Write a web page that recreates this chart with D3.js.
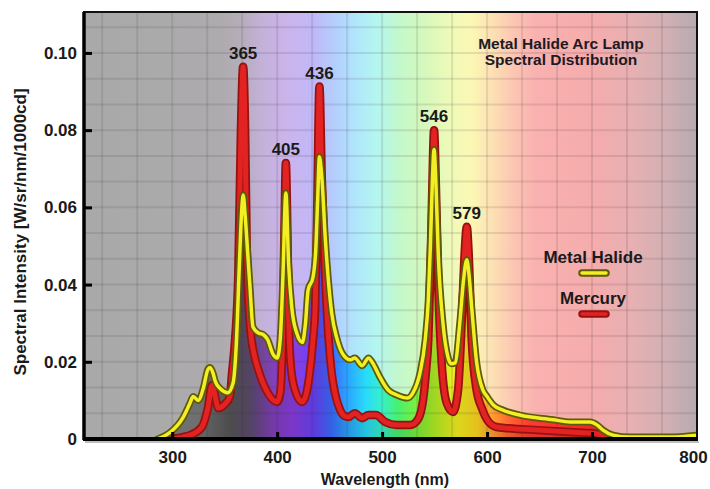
<!DOCTYPE html>
<html lang="en">
<head>
<meta charset="UTF-8">
<title>Metal Halide Arc Lamp Spectral Distribution</title>
<script src="https://d3js.org/d3.v7.min.js"></script>
<style>
  body { margin: 0; padding: 0; background: #fff; }
  svg { display: block; font-family: Arial, "Liberation Sans", sans-serif; font-weight: bold; }
  .tick text { font-size: 17px; fill: #1a1a1a; font-weight: bold; }
  .tick line { stroke: #000; stroke-width: 3; }
</style>
</head>
<body>
<svg id="chart" width="710" height="489"></svg>
<script>
// axis ticks and labels
const xTicks = [300, 400, 500, 600, 700, 800];
const yTicks = [0, 0.02, 0.04, 0.06, 0.08, 0.10];
const peakLabels = [365, 405, 436, 546, 579];
const seriesNames = ["Metal Halide", "Mercury"];

// [wavelength nm, spectral intensity]
const metalHalide = [
  [286, 0], [298, 0.0017], [310, 0.0054], [317, 0.0093], [320, 0.011], [324.8, 0.010],
  [329.5, 0.013], [334, 0.018], [336, 0.0185], [339, 0.017], [341, 0.015], [346, 0.013],
  [353, 0.012], [358, 0.0145], [361, 0.024], [364, 0.045], [366, 0.058], [367.6, 0.0632],
  [369.5, 0.058], [372, 0.048], [374, 0.040], [377, 0.029], [382, 0.0275], [387, 0.027],
  [391, 0.0257], [396, 0.022], [400, 0.021], [403, 0.026], [405.5, 0.042], [408.3, 0.0637],
  [411, 0.045], [414, 0.034], [418.6, 0.0275], [424, 0.025], [427, 0.030], [429.5, 0.0386],
  [434, 0.0417], [436.8, 0.049], [438.6, 0.062], [440.3, 0.0731], [442.5, 0.068], [446, 0.0515],
  [452, 0.0326], [457, 0.026], [463, 0.0218], [469.5, 0.0205], [474, 0.021], [481, 0.019],
  [487, 0.021], [491, 0.0197], [498, 0.016], [505.7, 0.0127], [514, 0.0114], [524, 0.0106],
  [529.5, 0.012], [536, 0.017], [541, 0.0256], [544, 0.036], [546, 0.05], [547.8, 0.066],
  [549.5, 0.075], [551.3, 0.066], [553.5, 0.048], [558, 0.030], [563, 0.021], [566, 0.0195],
  [569.5, 0.0197], [574, 0.030], [577.5, 0.041], [580.7, 0.0464], [583, 0.042], [585.4, 0.034],
  [590, 0.020], [596, 0.0127], [600, 0.011], [606, 0.0088], [615, 0.0075], [631, 0.0062],
  [663, 0.005], [679, 0.0044], [698, 0.0044], [705, 0.0036], [710.5, 0.0023], [720, 0.001],
  [736, 0.0005], [774, 0.0005], [800, 0.001]
];

const mercury = [
  [296, 0], [310, 0.0005], [317, 0.001], [328, 0.003], [334, 0.008], [338, 0.014],
  [341, 0.011], [344, 0.008], [350, 0.009], [355, 0.011], [357, 0.017], [360, 0.026],
  [363, 0.043], [365.5, 0.08], [367.6, 0.0964], [369.5, 0.08], [371, 0.05], [374, 0.030],
  [378, 0.022], [382, 0.018], [391, 0.012], [400, 0.0096], [403, 0.012], [405.5, 0.03],
  [407, 0.055], [408.3, 0.0715], [409.7, 0.055], [411, 0.032], [413, 0.019], [417, 0.0127],
  [424, 0.0096], [431, 0.017], [434, 0.025], [436.2, 0.034], [438.2, 0.06], [440.3, 0.0913],
  [442.5, 0.068], [445.7, 0.043], [449, 0.026], [452, 0.017], [455, 0.012], [460, 0.0075],
  [464, 0.006], [468, 0.0057], [474, 0.0067], [481, 0.0054], [487, 0.0062], [494, 0.0062],
  [503, 0.0044], [514, 0.0036], [527, 0.0036], [534, 0.005], [539, 0.010], [542, 0.018],
  [544, 0.0256], [546, 0.043], [547.8, 0.065], [549.5, 0.080], [551.3, 0.065], [553.5, 0.04],
  [557, 0.0187], [561.6, 0.0093], [567.6, 0.007], [572.4, 0.0127], [575, 0.025], [577, 0.038],
  [579, 0.050], [580.7, 0.055], [582.5, 0.048], [585.4, 0.0256], [590, 0.0127], [595, 0.008],
  [600, 0.005], [609, 0.0031], [620, 0.0028], [648, 0.0023], [679, 0.0018], [701, 0.0015],
  [710, 0.001], [717, 0.0005], [727, 0], [800, 0]
];

// colour stops of the spectrum backdrop (pale) and of the area under the curves (saturated)
const paleStops = [
  [216, "#a9a9a9"], [345, "#adabad"], [365, "#b5adb9"], [385, "#c3b1d9"], [410, "#cbb4ec"],
  [435, "#c0b8f8"], [455, "#b4cefc"], [475, "#b0e6fc"], [495, "#b4f6f0"], [515, "#c2f8cc"],
  [540, "#d6f8bc"], [565, "#eefab8"], [585, "#fcf8b4"], [605, "#fde0b4"], [625, "#fcc6b2"],
  [645, "#fab2b0"], [700, "#f5acac"], [740, "#e6b0b2"], [770, "#d2b0b4"], [800, "#b6aab0"]
];
const brightStops = [
  [216, "#7c7c7c"], [330, "#6e6e6e"], [355, "#565656"], [375, "#5e4c70"], [395, "#8040b8"],
  [415, "#8a3ee0"], [435, "#6a42f8"], [452, "#3a6cff"], [468, "#2aa8ff"], [485, "#28dcf8"],
  [500, "#38f0c8"], [515, "#48f070"], [535, "#80f038"], [555, "#c2f022"], [572, "#f4f020"],
  [590, "#ffd820"], [605, "#ffa030"], [620, "#ff6a30"], [640, "#ff3a32"], [700, "#f02828"],
  [800, "#c04040"]
];

const svg = d3.select("#chart");
const margin = { top: 12, right: 13, bottom: 50, left: 84 };
const width = 710 - margin.left - margin.right;
const height = 489 - margin.top - margin.bottom;

const x = d3.scaleLinear().domain([216, 800]).range([0, width]);
const y = d3.scaleLinear().domain([0, 0.1106]).range([height, 0]);

const defs = svg.append("defs");
function spectrum(id, stops) {
  const g = defs.append("linearGradient").attr("id", id)
    .attr("gradientUnits", "userSpaceOnUse")
    .attr("x1", 0).attr("x2", width).attr("y1", 0).attr("y2", 0);
  stops.forEach(s => g.append("stop").attr("offset", x(s[0]) / width).attr("stop-color", s[1]));
}
spectrum("pale", paleStops);
spectrum("bright", brightStops);
defs.append("clipPath").attr("id", "plotClip")
  .append("rect").attr("width", width).attr("height", height);

const g = svg.append("g").attr("transform", `translate(${margin.left},${margin.top})`);

g.append("rect").attr("width", width).attr("height", height).attr("fill", "url(#pale)");

const plot = g.append("g").attr("clip-path", "url(#plotClip)");

const area = d3.area().x(d => x(d[0])).y0(height).y1(d => y(d[1])).curve(d3.curveMonotoneX);
const line = d3.line().x(d => x(d[0])).y(d => y(d[1])).curve(d3.curveMonotoneX);

plot.append("path").datum(metalHalide).attr("d", area).attr("fill", "url(#bright)");
plot.append("path").datum(mercury).attr("d", area).attr("fill", "rgba(0,0,0,0.1)");

// grid
const vGrid = d3.range(800, 216, -100 / 3);
const hGrid = d3.range(0.02 / 3, 0.1106, 0.02 / 3);
plot.selectAll(".vgrid").data(vGrid).enter().append("line")
  .attr("x1", d => x(d)).attr("x2", d => x(d)).attr("y1", 0).attr("y2", height)
  .attr("stroke", "rgba(60,40,60,0.12)").attr("stroke-width", 2);
plot.selectAll(".hgrid").data(hGrid).enter().append("line")
  .attr("y1", d => y(d)).attr("y2", d => y(d)).attr("x1", 0).attr("x2", width)
  .attr("stroke", "rgba(60,40,60,0.12)").attr("stroke-width", 2);

// curves: mercury below, metal halide on top
const curveStyle = [
  { data: mercury, outer: "#951212", outerW: 8.5, inner: "#e32222", innerW: 5 },
  { data: metalHalide, outer: "#5e5a08", outerW: 7, inner: "#f3ef24", innerW: 3.5 }
];
curveStyle.forEach(c => {
  plot.append("path").datum(c.data).attr("d", line).attr("fill", "none")
    .attr("stroke", c.outer).attr("stroke-width", c.outerW)
    .attr("stroke-linejoin", "round").attr("stroke-linecap", "round");
  plot.append("path").datum(c.data).attr("d", line).attr("fill", "none")
    .attr("stroke", c.inner).attr("stroke-width", c.innerW)
    .attr("stroke-linejoin", "round").attr("stroke-linecap", "round");
});

// frame
g.append("rect").attr("width", width).attr("height", height)
  .attr("fill", "none").attr("stroke", "#111").attr("stroke-width", 2);
g.append("line").attr("x1", 0).attr("x2", 0).attr("y1", 0).attr("y2", height + 1)
  .attr("stroke", "#000").attr("stroke-width", 3.5);
g.append("line").attr("x1", -1).attr("x2", width + 1).attr("y1", height).attr("y2", height)
  .attr("stroke", "#000").attr("stroke-width", 4);
g.append("line").attr("x1", 1).attr("x2", width + 2).attr("y1", height + 3).attr("y2", height + 3)
  .attr("stroke", "rgba(0,0,0,0.25)").attr("stroke-width", 2);

// axes with inward ticks
const xAxis = g.append("g").attr("transform", `translate(0,${height})`)
  .call(d3.axisBottom(x).tickValues(xTicks).tickSize(-7).tickPadding(12).tickFormat(d3.format("d")));
const yAxis = g.append("g")
  .call(d3.axisLeft(y).tickValues(yTicks).tickSize(-8).tickPadding(7)
    .tickFormat(d => d === 0 ? "0" : d3.format(".2f")(d)));
[xAxis, yAxis].forEach(a => {
  a.select(".domain").remove();
  a.selectAll(".tick line").attr("stroke", "#000").attr("stroke-width", 3);
  a.selectAll(".tick text").attr("font-family", null).attr("font-size", null);
});
const lastTick = xAxis.selectAll(".tick").filter(d => d === 800);
lastTick.select("line").remove();
lastTick.select("text").attr("x", -4);
yAxis.selectAll(".tick").filter(d => d === 0).select("line").remove();

// peak labels above the mercury maxima
peakLabels.forEach(p => {
  const near = mercury.filter(d => d[0] >= p - 1 && d[0] <= p + 6);
  const top = near.reduce((a, b) => (b[1] > a[1] ? b : a));
  g.append("text").attr("x", x(top[0])).attr("y", y(top[1]) - 8)
    .attr("text-anchor", "middle").attr("font-size", 17).attr("fill", "#1a1a1a").text(p);
});

// title
const title = g.append("text").attr("text-anchor", "middle").attr("font-size", 15.5).attr("fill", "#1c1a24");
title.append("tspan").attr("x", 561 - margin.left).attr("y", 37).text("Metal Halide Arc Lamp");
title.append("tspan").attr("x", 561 - margin.left).attr("y", 53).text("Spectral Distribution");

// legend
const legend = g.append("g").attr("transform", `translate(${593 - margin.left},0)`);
seriesNames.forEach((name, i) => {
  const c = curveStyle[1 - i];
  const ty = 251 + i * 41;
  legend.append("text").attr("y", ty).attr("text-anchor", "middle")
    .attr("font-size", 17).attr("fill", "#1a1a1a").text(name);
  [[c.outer, 7.5], [c.inner, 3.5]].forEach(s => {
    legend.append("line").attr("x1", -11).attr("x2", 13).attr("y1", ty + 10).attr("y2", ty + 10)
      .attr("stroke", s[0]).attr("stroke-width", s[1]).attr("stroke-linecap", "round");
  });
});

// axis titles
svg.append("text").attr("x", 385).attr("y", 485).attr("text-anchor", "middle")
  .attr("font-size", 16).attr("fill", "#1a1a1a").text("Wavelength (nm)");
svg.append("text").attr("transform", "translate(26,232) rotate(-90)").attr("text-anchor", "middle")
  .attr("font-size", 17).attr("fill", "#1a1a1a").text("Spectral Intensity [W/sr/nm/1000cd]");
</script>
</body>
</html>
